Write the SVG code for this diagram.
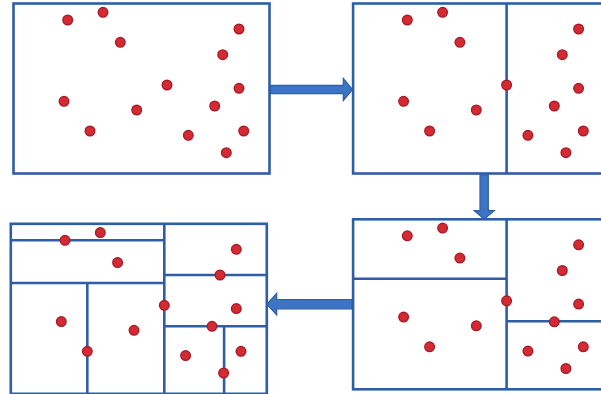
<svg xmlns="http://www.w3.org/2000/svg" width="601" height="394" viewBox="0 0 601 394">
<style>
.box{fill:#fff;stroke:#2f5da6;stroke-width:2.6}
.div{fill:none;stroke:#2f5da6;stroke-width:2.6}
.dot{fill:#d42a34;stroke:#a91b27;stroke-width:1.4}
.arr{fill:#3d74c4;stroke:#2d5ea8;stroke-width:1.2}
</style>
<defs>
<g id="dots1">
<circle class="dot" cx="67.7" cy="20" r="4.8"/>
<circle class="dot" cx="103" cy="12.3" r="4.8"/>
<circle class="dot" cx="120.3" cy="42.3" r="4.8"/>
<circle class="dot" cx="239" cy="29" r="4.8"/>
<circle class="dot" cx="222.7" cy="54.7" r="4.8"/>
<circle class="dot" cx="167" cy="85" r="4.8"/>
<circle class="dot" cx="239" cy="88.3" r="4.8"/>
<circle class="dot" cx="64" cy="101.3" r="4.8"/>
<circle class="dot" cx="136.7" cy="110" r="4.8"/>
<circle class="dot" cx="214.7" cy="106" r="4.8"/>
<circle class="dot" cx="90" cy="131" r="4.8"/>
<circle class="dot" cx="188.3" cy="135.3" r="4.8"/>
<circle class="dot" cx="243.7" cy="131" r="4.8"/>
<circle class="dot" cx="226.3" cy="152.7" r="4.8"/>
</g>
</defs>
<g id="panel1">
<rect class="box" x="13.5" y="3.5" width="256" height="170"/>
<use href="#dots1"/>
</g>
<g id="panel2" transform="translate(339.6,0)">
<rect class="box" x="13.5" y="3.5" width="256" height="170"/>
<line class="div" x1="167" y1="3.5" x2="167" y2="173.5"/>
<use href="#dots1"/>
</g>
<g id="panel3" transform="translate(339.6,215.8)">
<rect class="box" x="13.5" y="3.5" width="256" height="170"/>
<line class="div" x1="167" y1="3.5" x2="167" y2="173.5"/>
<line class="div" x1="13.5" y1="63" x2="167" y2="63"/>
<line class="div" x1="167" y1="105.5" x2="269.5" y2="105.5"/>
<use href="#dots1"/>
</g>
<g id="panel4" transform="translate(-2.7,220.3)">
<rect class="box" x="13.5" y="3.5" width="256" height="170"/>
<line class="div" x1="167" y1="3.5" x2="167" y2="173.5"/>
<line class="div" x1="13.5" y1="62.7" x2="167" y2="62.7"/>
<line class="div" x1="13.5" y1="20" x2="167" y2="20"/>
<line class="div" x1="90" y1="62.7" x2="90" y2="173.5"/>
<line class="div" x1="167" y1="54.7" x2="269.5" y2="54.7"/>
<line class="div" x1="167" y1="106" x2="269.5" y2="106"/>
<line class="div" x1="226.8" y1="106" x2="226.8" y2="173.5"/>
<use href="#dots1"/>
</g>
<g id="connectors">
<polygon class="arr" points="270.5,85.3 343.3,85.3 343.3,78.5 352.5,89.5 343.3,100.5 343.3,93.7 270.5,93.7"/>
<polygon class="arr" points="480,174.8 488.3,174.8 488.3,210.7 494.3,210.7 484.2,219.3 474.2,210.7 480,210.7"/>
<polygon class="arr" points="352,299.5 276.7,299.5 276.7,293.3 266.9,304.2 276.7,315 276.7,308.8 352,308.8"/>
</g>
</svg>
